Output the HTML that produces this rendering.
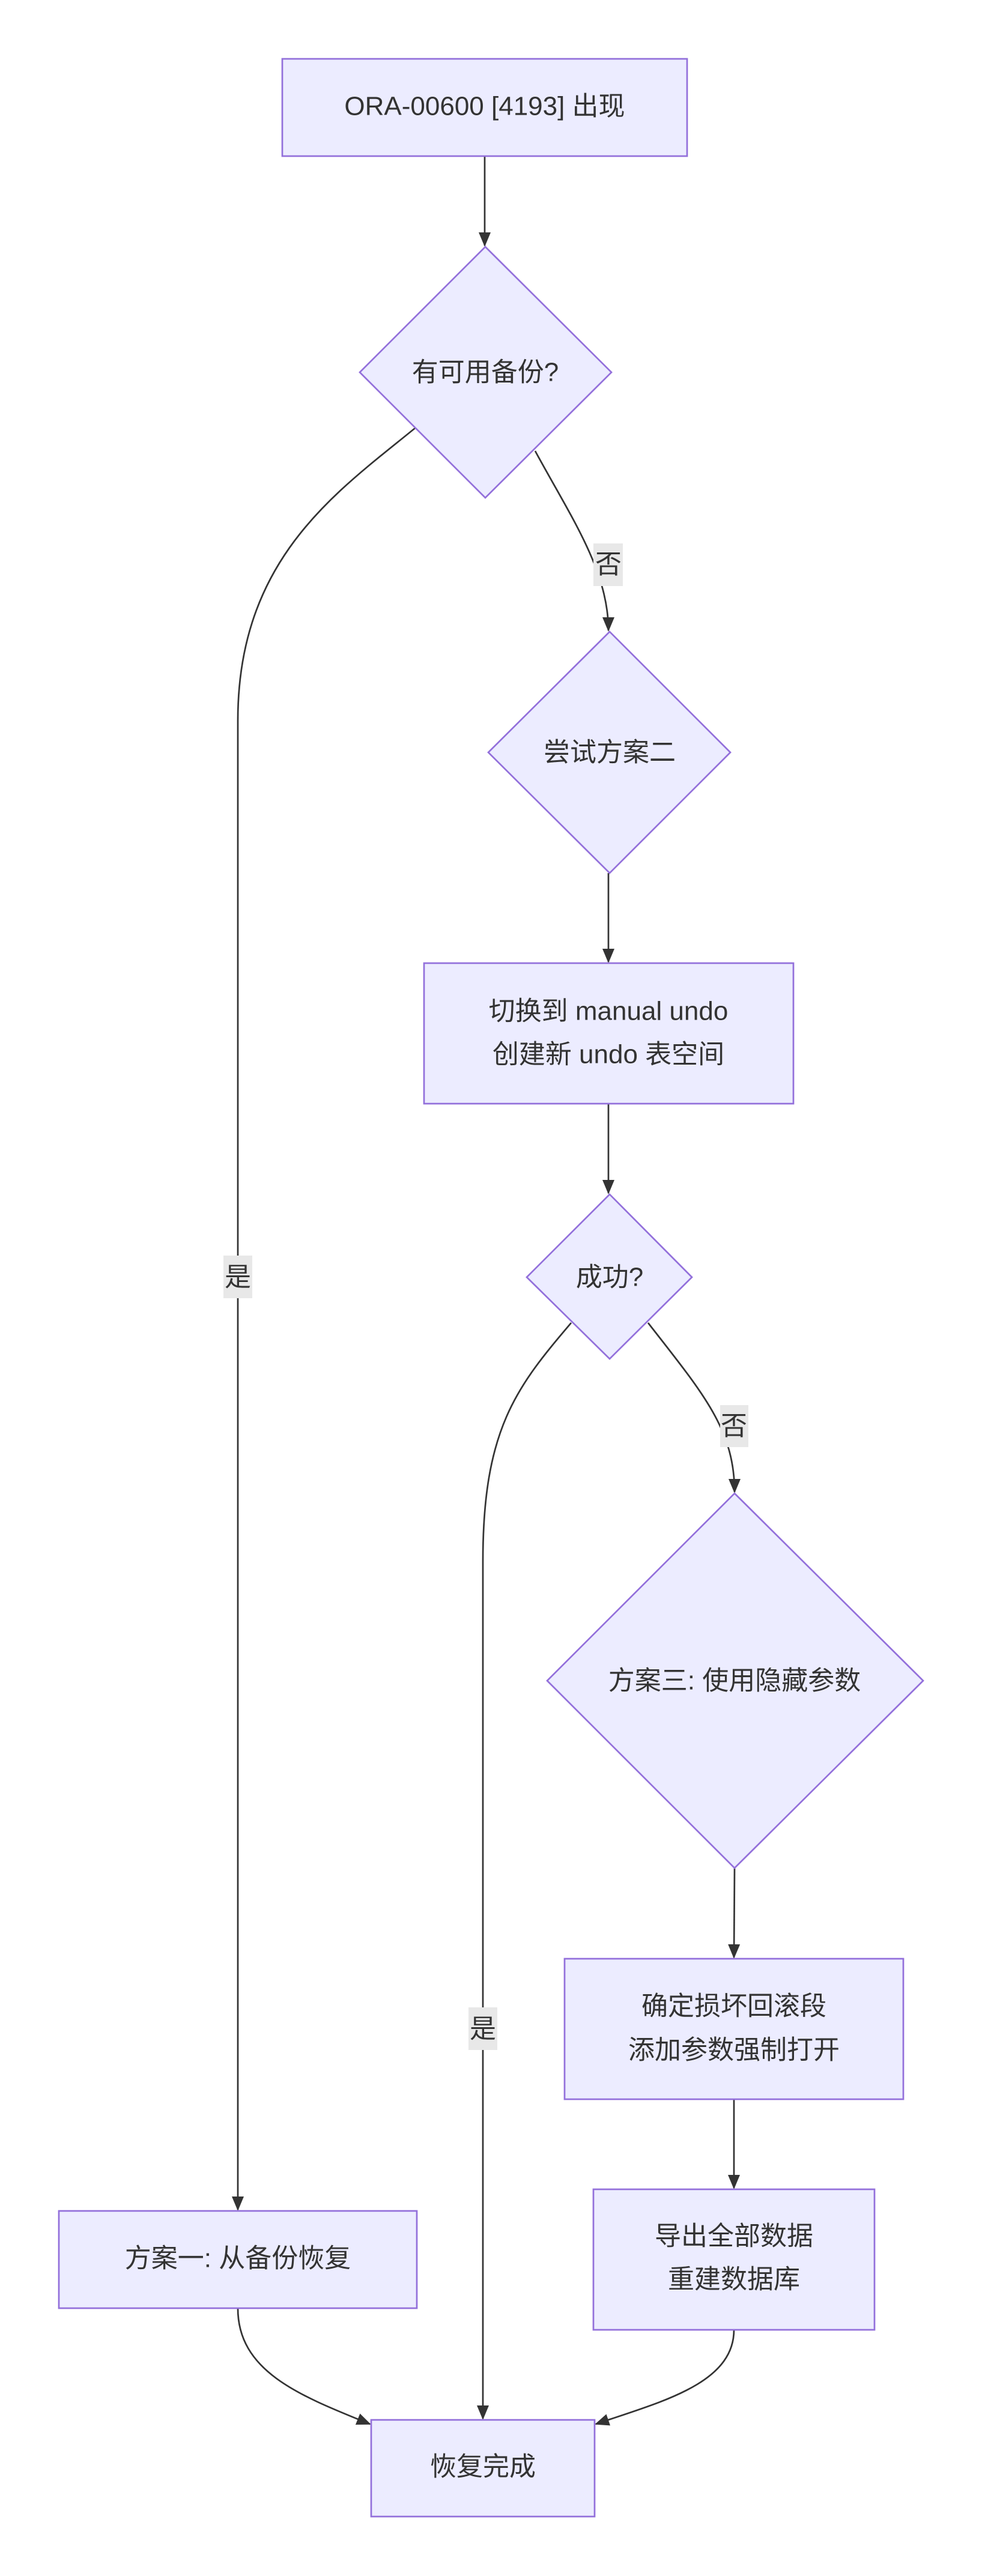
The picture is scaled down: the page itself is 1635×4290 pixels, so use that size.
<!DOCTYPE html>
<html><head><meta charset="utf-8"><style>
html,body{margin:0;padding:0;background:#fff;}
svg{display:block;}
text{font-family:"Liberation Sans","Noto Sans CJK SC",sans-serif;font-size:44px;fill:#333;text-anchor:middle;dominant-baseline:central;}
.n{fill:#ECECFF;stroke:#9370DB;stroke-width:2.7;}
.e{fill:none;stroke:#333;stroke-width:2.7;}
.lb{fill:#e8e8e8;}
</style></head><body>
<svg width="1635" height="4290" viewBox="0 0 1635 4290" xmlns="http://www.w3.org/2000/svg">
<defs>
<marker id="a" markerUnits="userSpaceOnUse" markerWidth="24" markerHeight="24" viewBox="0 0 24 24" refX="22" refY="12" orient="auto">
<path d="M0,2 L24,12 L0,22 Z" fill="#333"/>
</marker>
</defs>
<!-- edges -->
<path class="e" d="M807 260 L807 409" marker-end="url(#a)"/>
<path class="e" d="M691 713 C560 820 396 930 396 1200 L396 3680" marker-end="url(#a)"/>
<path class="e" d="M891 751 C950 860 1013 950 1013 1050" marker-end="url(#a)"/>
<path class="e" d="M1013 1454 L1013 1602" marker-end="url(#a)"/>
<path class="e" d="M1013 1838 L1013 1987" marker-end="url(#a)"/>
<path class="e" d="M951 2203 C860 2310 804 2380 804 2600 L804 4028" marker-end="url(#a)"/>
<path class="e" d="M1079 2203 C1170 2320 1223 2380 1223 2485" marker-end="url(#a)"/>
<path class="e" d="M1223 3111 L1222 3260" marker-end="url(#a)"/>
<path class="e" d="M1222 3496 L1222 3644" marker-end="url(#a)"/>
<path class="e" d="M396 3844 C396 3950 500 3990 616 4037" marker-end="url(#a)"/>
<path class="e" d="M1222 3880 C1222 3970 1100 4000 992 4037" marker-end="url(#a)"/>
<!-- labels -->
<rect class="lb" x="988" y="905" width="49" height="71"/><text x="1013" y="940">否</text>
<rect class="lb" x="372" y="2091" width="48" height="71"/><text x="396" y="2127">是</text>
<rect class="lb" x="1199" y="2340" width="47" height="70"/><text x="1222" y="2375">否</text>
<rect class="lb" x="780" y="3343" width="48" height="71"/><text x="804" y="3379">是</text>
<!-- nodes -->
<rect class="n" x="470" y="98" width="674" height="162"/>
<text x="807" y="177">ORA-00600 [4193] 出现</text>
<polygon class="n" points="808,411 1018,620 808,829 599,620"/>
<text x="808" y="620">有可用备份?</text>
<polygon class="n" points="1015,1052 1216,1253 1015,1454 813,1253"/>
<text x="1015" y="1253">尝试方案二</text>
<rect class="n" x="706" y="1604" width="615" height="234"/>
<text x="1013" y="1684">切换到 manual undo</text>
<text x="1013" y="1756">创建新 undo 表空间</text>
<polygon class="n" points="1015,1989 1152,2127 1015,2263 877,2127"/>
<text x="1015" y="2127">成功?</text>
<polygon class="n" points="1223,2487 1537,2799 1223,3111 911,2799"/>
<text x="1223" y="2799">方案三: 使用隐藏参数</text>
<rect class="n" x="940" y="3262" width="564" height="234"/>
<text x="1222" y="3341">确定损坏回滚段</text>
<text x="1222" y="3414">添加参数强制打开</text>
<rect class="n" x="988" y="3646" width="468" height="234"/>
<text x="1222" y="3724">导出全部数据</text>
<text x="1222" y="3796">重建数据库</text>
<rect class="n" x="98" y="3682" width="596" height="162"/>
<text x="396" y="3761">方案一: 从备份恢复</text>
<rect class="n" x="618" y="4030" width="372" height="161"/>
<text x="804" y="4108">恢复完成</text>
</svg>
</body></html>
